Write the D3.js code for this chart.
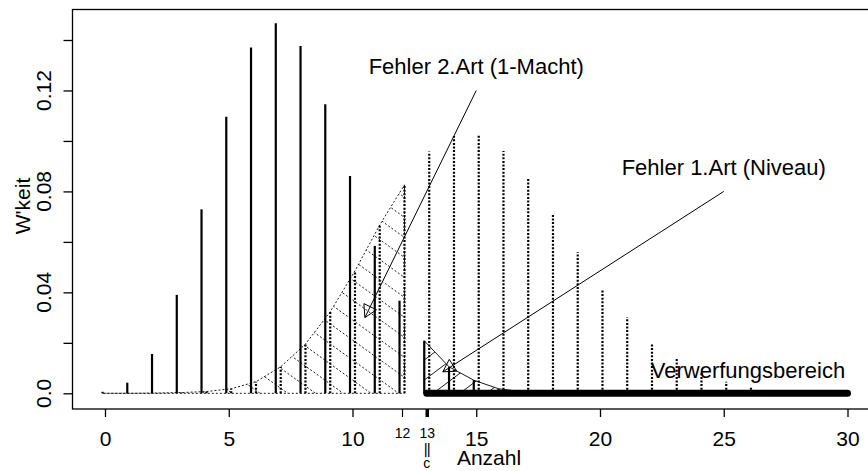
<!DOCTYPE html>
<html>
<head>
<meta charset="utf-8">
<script src="https://cdn.jsdelivr.net/npm/d3@7"></script>
<style>
body { margin: 0; background: #fff; }
svg text { font-family: "Liberation Sans", Arial, Helvetica, sans-serif; fill: #000; }
</style>
</head>
<body>
<div id="chart"></div>
<script>
// Anzahl 0..30, Wahrscheinlichkeiten unter H0 (durchgezogen) und H1 (gepunktet)
var counts = [0,1,2,3,4,5,6,7,8,9,10,11,12,13,14,15,16,17,18,19,20,21,22,23,24,25,26,27,28,29,30];
var h0Probs = [0.0006,0.0042,0.0156,0.039,0.0729,0.1096,0.137,0.1466,0.1376,0.1145,0.0861,0.0584,0.0367,
               0.0208,0.0105,0.0052,0.0018,0.0006,0.0002,0.0001,0,0,0,0,0,0,0,0,0,0,0];
var h1Probs = [0,0,0.0001,0.0003,0.0007,0.0018,0.0046,0.0105,0.0195,0.0323,0.0485,0.0667,0.0826,
               0.0958,0.102,0.1028,0.096,0.0849,0.0709,0.0559,0.041,0.0301,0.0198,0.0136,0.0079,
               0.0046,0.0026,0.0014,0.0006,0.0002,0];
var critical = 13;

var xTicks = [0,5,10,15,20,25,30];
var xExtraTicks = [12,13];
var yTicks = [0,0.02,0.04,0.06,0.08,0.1,0.12,0.14];
var yLabelValues = [0,0.04,0.08,0.12];
var yLabelText = ["0.0","0.04","0.08","0.12"];

var noteText = ["Fehler 2.Art (1-Macht)", "Fehler 1.Art (Niveau)"];
var noteFrom = [[15,0.12],[25,0.08]];
var noteTo = [[10.5,0.03],[13.65,0.0085]];

var width = 868, height = 471;
var boxLeft = 72.5, boxRight = 915, boxTop = 9.5, boxBottom = 409;

var svg = d3.select("#chart").append("svg").attr("width", width).attr("height", height);
svg.append("rect").attr("width", width).attr("height", height).attr("fill", "#fff");

var x = d3.scaleLinear().domain([0,30]).range([105,847.5]);
var y = d3.scaleLinear().domain([0,0.14]).range([393.3,40]);

// schraffiertes Polygon, Linien per clipPath abgeschnitten
function hatch(id, pts, slope, dash) {
    svg.append("clipPath").attr("id", id).append("polygon")
        .attr("points", pts.map(p => p.join(",")).join(" "));
    var xsP = pts.map(p => p[0]), ysP = pts.map(p => p[1]);
    var x0 = d3.min(xsP), x1 = d3.max(xsP), y0 = d3.min(ysP), y1 = d3.max(ysP);
    var w = x1 - x0, step = 20;
    var cmin = y0 - Math.max(0, slope * w), cmax = y1 - Math.min(0, slope * w);
    var g = svg.append("g").attr("clip-path", "url(#" + id + ")");
    for (var c = Math.floor(cmin / step) * step; c <= cmax; c += step) {
        g.append("line").attr("x1", x0).attr("y1", c).attr("x2", x1).attr("y2", c + slope * w)
            .attr("stroke", "#000").attr("stroke-width", 0.9).attr("stroke-dasharray", dash);
    }
    svg.append("polygon").attr("points", pts.map(p => p.join(",")).join(" "))
        .attr("fill", "none").attr("stroke", "#000").attr("stroke-width", 0.9).attr("stroke-dasharray", dash);
}

// Fehler 2. Art: H1 links vom kritischen Wert
var betaPts = [[x(-0.1), y(0)]];
counts.filter(d => d < critical).forEach(d => betaPts.push([x(d + 0.1), y(h1Probs[d])]));
betaPts.push([x(critical - 1 + 0.1), y(0)]);
hatch("beta", betaPts, 0.72, "2,2");

// Fehler 1. Art: H0 ab dem kritischen Wert
var alphaPts = [[x(critical - 0.1), y(0)]];
counts.filter(d => d >= critical).forEach(d => alphaPts.push([x(d - 0.1), y(h0Probs[d])]));
alphaPts.push([x(30 - 0.1), y(0)]);
hatch("alpha", alphaPts, -0.75, null);

// Stäbe
svg.selectAll(".h0").data(counts).enter().append("line").attr("class", "h0")
    .attr("x1", d => x(d - 0.1)).attr("x2", d => x(d - 0.1))
    .attr("y1", y(0)).attr("y2", d => y(h0Probs[d]))
    .attr("stroke", "#000").attr("stroke-width", 2.2);

svg.selectAll(".h1").data(counts).enter().append("line").attr("class", "h1")
    .attr("x1", d => x(d + 0.1)).attr("x2", d => x(d + 0.1))
    .attr("y1", y(0)).attr("y2", d => y(h1Probs[d]))
    .attr("stroke", "#000").attr("stroke-width", 2.2).attr("stroke-dasharray", "2,1.6");

// Verwerfungsbereich
svg.append("line").attr("x1", x(critical)).attr("x2", x(30)).attr("y1", y(0)).attr("y2", y(0))
    .attr("stroke", "#000").attr("stroke-width", 7).attr("stroke-linecap", "round");

// Pfeile mit Text
noteText.forEach(function(t, i) {
    var p1 = [x(noteFrom[i][0]), y(noteFrom[i][1])], p2 = [x(noteTo[i][0]), y(noteTo[i][1])];
    svg.append("line").attr("x1", p1[0]).attr("y1", p1[1]).attr("x2", p2[0]).attr("y2", p2[1])
        .attr("stroke", "#000").attr("stroke-width", 1);
    var a = Math.atan2(p1[1] - p2[1], p1[0] - p2[0]), L = 14, s = Math.PI / 6;
    var head = [[p2[0] + L * Math.cos(a + s), p2[1] + L * Math.sin(a + s)], p2,
                [p2[0] + L * Math.cos(a - s), p2[1] + L * Math.sin(a - s)]];
    svg.append("polygon").attr("points", head.map(p => p.join(",")).join(" "))
        .attr("fill", "none").attr("stroke", "#000").attr("stroke-width", 1);
    svg.append("text").attr("x", p1[0]).attr("y", p1[1] - 16).attr("text-anchor", "middle")
        .attr("font-size", 22).text(t);
});

svg.append("text").attr("x", 748).attr("y", 378).attr("text-anchor", "middle")
    .attr("font-size", 22).text("Verwerfungsbereich");

// Rahmen
svg.append("rect").attr("x", boxLeft).attr("y", boxTop)
    .attr("width", boxRight - boxLeft).attr("height", boxBottom - boxTop)
    .attr("fill", "none").attr("stroke", "#000").attr("stroke-width", 1.3);

// Achsen
var gx = svg.append("g").attr("transform", "translate(0," + boxBottom + ")")
    .call(d3.axisBottom(x).tickValues(xTicks).tickSize(8).tickPadding(14).tickFormat(d3.format("d")));
gx.select(".domain").remove();
gx.attr("font-size", null).attr("font-family", null);
gx.selectAll("line").attr("stroke-width", 1.3);
gx.selectAll("text").attr("font-size", 21);

var gx2 = svg.append("g").attr("transform", "translate(0," + boxBottom + ")")
    .call(d3.axisBottom(x).tickValues(xExtraTicks).tickSize(8).tickPadding(11).tickFormat(d3.format("d")));
gx2.select(".domain").remove();
gx2.attr("font-size", null).attr("font-family", null);
gx2.selectAll("line").attr("stroke-width", d => d === critical ? 3.5 : 1.2);
gx2.selectAll("text").attr("font-size", 14);

svg.append("text").attr("x", x(critical)).attr("y", 454).attr("text-anchor", "middle")
    .attr("font-size", 15).attr("letter-spacing", -1).text("||");
svg.append("text").attr("x", x(critical)).attr("y", 468).attr("text-anchor", "middle")
    .attr("font-size", 14).text("c");

var gy = svg.append("g").attr("transform", "translate(" + boxLeft + ",0)")
    .call(d3.axisLeft(y).tickValues(yTicks).tickSize(9).tickFormat(""));
gy.select(".domain").remove();
gy.selectAll("line").attr("stroke-width", 1.3);

svg.selectAll(".ylab").data(yLabelValues).enter().append("text").attr("class", "ylab")
    .attr("transform", d => "translate(51," + y(d) + ") rotate(-90)")
    .attr("text-anchor", "middle").attr("font-size", 21)
    .text((d, i) => yLabelText[i]);

svg.append("text").attr("transform", "translate(30,206) rotate(-90)")
    .attr("text-anchor", "middle").attr("font-size", 21).text("W'keit");
svg.append("text").attr("x", 489).attr("y", 465).attr("text-anchor", "middle")
    .attr("font-size", 21).text("Anzahl");
</script>
</body>
</html>
